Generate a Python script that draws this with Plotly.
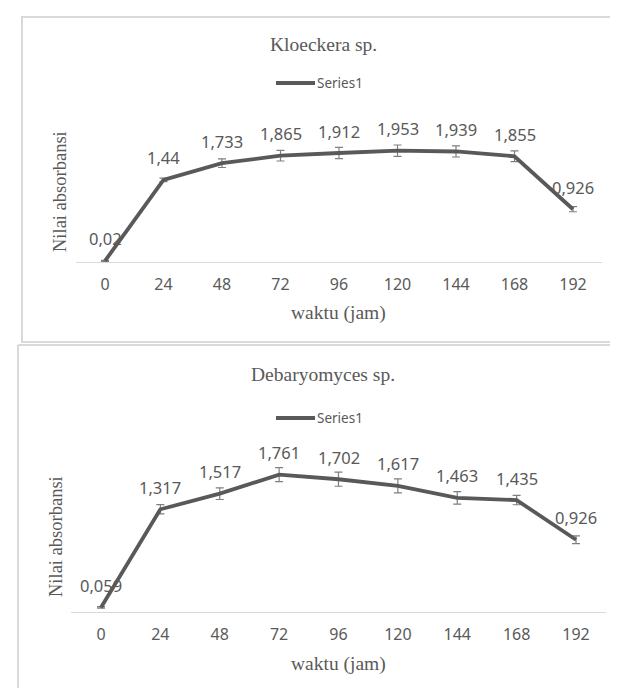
import plotly.graph_objects as go

# ---------------- data ----------------
hours = ["0", "24", "48", "72", "96", "120", "144", "168", "192"]
kloeckera = [0.02, 1.44, 1.733, 1.865, 1.912, 1.953, 1.939, 1.855, 0.926]
kloeckera_err = [0.01, 0.03, 0.075, 0.093, 0.10, 0.10, 0.097, 0.093, 0.044]
debaryomyces = [0.059, 1.317, 1.517, 1.761, 1.702, 1.617, 1.463, 1.435, 0.926]
debaryomyces_err = [0.01, 0.06, 0.075, 0.09, 0.09, 0.09, 0.08, 0.06, 0.05]
titles = ["Kloeckera sp.", "Debaryomyces sp."]
series_name = "Series1"
x_title = "waktu (jam)"
y_title = "Nilai absorbansi"

W, H = 618, 688
def X(px):
    return px / W
def Y(py):
    return 1 - py / H

LINE = "#595959"
ERR = "#7f7f7f"
TXT = "#595959"
GRID = "#d9d9d9"
SANS = "Noto Sans"
SERIF = "Liberation Serif"

fig = go.Figure()

panels = [
    dict(vals=kloeckera, err=kloeckera_err, xa="x", ya="y", title=titles[0],
         xdom=(67.75, 594.25), ydom=(254, 111.5), yr=[0, 2.5],
         title_y=37, legend_y=75, xt_y=305, yt_x=52, yt_y=184),
    dict(vals=debaryomyces, err=debaryomyces_err, xa="x2", ya="y2", title=titles[1],
         xdom=(63.3, 597.7), ydom=(604, 448), yr=[0, 2.0],
         title_y=367, legend_y=410, xt_y=656, yt_x=48, yt_y=528),
]

annotations = []
shapes = []

for p in panels:
    fig.add_trace(go.Scatter(
        x=hours, y=p["vals"], mode="lines", xaxis=p["xa"], yaxis=p["ya"],
        name=series_name, showlegend=False,
        line=dict(color=LINE, width=3.8),
        error_y=dict(type="data", array=p["err"], visible=True,
                     color=ERR, thickness=1.2, width=4),
    ))
    # data labels (category axis -> use category index)
    for i, v in enumerate(p["vals"]):
        annotations.append(dict(
            x=i, y=v, xref=p["xa"], yref=p["ya"], text=str(v).replace(".", ","),
            showarrow=False, yshift=22, font=dict(family=SANS, size=16.5, color=TXT)))
    # chart title
    annotations.append(dict(x=X(315), y=Y(p["title_y"]), xref="paper", yref="paper",
                            text=p["title"], showarrow=False, xanchor="center", yanchor="middle",
                            font=dict(family=SERIF, size=19.5, color=TXT)))
    # legend (manual)
    shapes.append(dict(type="line", xref="paper", yref="paper",
                       x0=X(268), x1=X(307), y0=Y(p["legend_y"]), y1=Y(p["legend_y"]),
                       line=dict(color=LINE, width=4)))
    annotations.append(dict(x=X(307), y=Y(p["legend_y"]), xref="paper", yref="paper",
                            text=series_name, showarrow=False, xanchor="left", yanchor="middle",
                            font=dict(family=SANS, size=13.5, color=TXT)))
    # axis titles
    annotations.append(dict(x=X(330), y=Y(p["xt_y"]), xref="paper", yref="paper",
                            text=x_title, showarrow=False, xanchor="center", yanchor="middle",
                            font=dict(family=SERIF, size=19.5, color=TXT)))
    annotations.append(dict(x=X(p["yt_x"]), y=Y(p["yt_y"]), xref="paper", yref="paper",
                            text=y_title, showarrow=False, textangle=-90,
                            xanchor="center", yanchor="middle",
                            font=dict(family=SERIF, size=18.5, color=TXT)))

# frames around the two charts
shapes.append(dict(type="rect", xref="paper", yref="paper",
                   x0=X(14), x1=X(616), y0=Y(9), y1=Y(334),
                   line=dict(color=GRID, width=2)))
shapes.append(dict(type="line", xref="paper", yref="paper",
                   x0=X(10), x1=X(620), y0=Y(337), y1=Y(337),
                   line=dict(color=GRID, width=2)))
shapes.append(dict(type="line", xref="paper", yref="paper",
                   x0=X(10), x1=X(10), y0=Y(337), y1=Y(690),
                   line=dict(color=GRID, width=2)))

def xaxis(dom, anchor):
    return dict(domain=[X(dom[0]), X(dom[1])], anchor=anchor, type="category",
                range=[-0.5, 8.5], showgrid=False, zeroline=False,
                showline=True, linecolor=GRID, linewidth=1.2, ticks="",
                ticklabelstandoff=8,
                tickfont=dict(family=SANS, size=16, color=TXT), fixedrange=True)

def yaxis(dom, rng, anchor):
    return dict(domain=[Y(dom[0]), Y(dom[1])], anchor=anchor, range=rng,
                showgrid=False, zeroline=False, showline=False,
                showticklabels=False, ticks="", fixedrange=True)

fig.update_layout(
    width=W, height=H, margin=dict(l=0, r=0, t=0, b=0),
    paper_bgcolor="white", plot_bgcolor="white",
    showlegend=False,
    xaxis=xaxis(panels[0]["xdom"], "y"),
    yaxis=yaxis(panels[0]["ydom"], panels[0]["yr"], "x"),
    xaxis2=xaxis(panels[1]["xdom"], "y2"),
    yaxis2=yaxis(panels[1]["ydom"], panels[1]["yr"], "x2"),
    annotations=annotations, shapes=shapes,
)

fig.write_html("out.html")
